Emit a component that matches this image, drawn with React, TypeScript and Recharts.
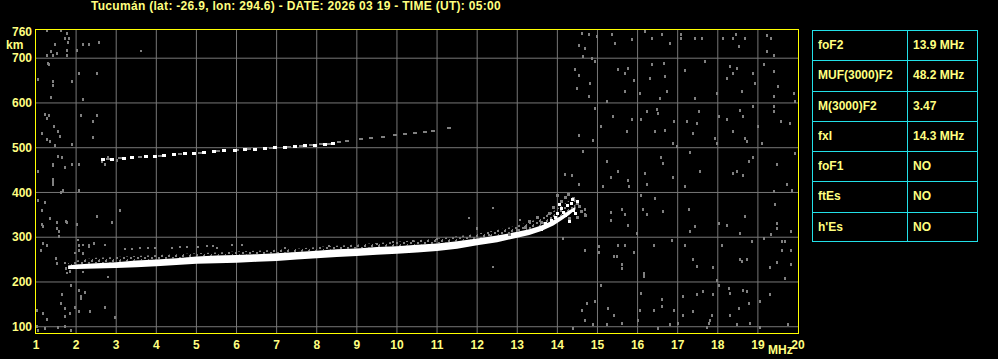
import React from 'react';
import { ComposedChart, Area, Scatter, XAxis, YAxis, CartesianGrid } from 'recharts';

const TITLE = 'Tucumán (lat: -26.9, lon: 294.6) - DATE: 2026 03 19 - TIME (UT): 05:00';

const FONT = '"Liberation Sans", Arial, sans-serif';
const TEXT_YELLOW = '#ffff80';
const AXIS_YELLOW = '#ffff00';
const GRID = '#777777';
const NOISE = '#808080';
const CYAN = '#22e0e8';

const xTicks = [1, 2, 3, 4, 5, 6, 7, 8, 9, 10, 11, 12, 13, 14, 15, 16, 17, 18, 19, 20];
const yTicks = [100, 200, 300, 400, 500, 600, 700, 760];
const gridX = [2, 3, 4, 5, 6, 7, 8, 9, 10, 11, 12, 13, 14, 15, 16, 17, 18, 19];
const gridY = [100, 200, 300, 400, 500, 600, 700];

// parameter table
const paramNames = ['foF2', 'MUF(3000)F2', 'M(3000)F2', 'fxI', 'foF1', 'ftEs', "h'Es"];
const paramValues = ['13.9 MHz', '48.2 MHz', '3.47', '14.3 MHz', 'NO', 'NO', 'NO'];

// F trace (first hop): white band lower/upper virtual height, speckled echo above it
const traceFreq = [1.8, 2.0, 2.5, 3.0, 3.5, 4.0, 4.5, 5.0, 5.5, 6.0, 6.5, 7.0, 7.5, 8.0, 8.5, 9.0, 9.5, 10.0, 10.5, 11.0, 11.5, 12.0, 12.5, 13.0, 13.3, 13.6, 13.9, 14.1, 14.3, 14.45];
const traceLow = [229, 229, 230, 231, 233, 235, 238, 241, 242, 243, 245, 247, 250, 253, 256, 258, 261, 263, 266, 269, 274, 282, 289, 299, 305, 314, 326, 338, 350, 362];
const traceHigh = [237, 239, 242, 244, 248, 250, 253, 257, 259, 260, 262, 264, 267, 270, 273, 275, 278, 280, 283, 286, 291, 297, 304, 312, 318, 326, 338, 348, 360, 368];
const fringeTop = [242, 248, 254, 256, 258, 260, 262, 264, 266, 268, 270, 272, 274, 278, 281, 284, 287, 290, 293, 297, 302, 308, 316, 326, 334, 344, 358, 370, 382, 390];

// split echoes near the critical frequency
const splitWhite = [
  { f: 13.85, h: 338 }, { f: 14.0, h: 352 }, { f: 14.1, h: 364 }, { f: 14.25, h: 370 }, { f: 14.35, h: 376 },
  { f: 14.4, h: 360 }, { f: 14.2, h: 348 }, { f: 14.45, h: 352 }, { f: 14.3, h: 336 }, { f: 14.5, h: 380 },
  { f: 13.7, h: 330 }, { f: 13.95, h: 344 }, { f: 14.15, h: 356 }, { f: 14.38, h: 384 }, { f: 14.05, h: 372 },
  { f: 13.6, h: 318 }, { f: 13.4, h: 314 },
];
const splitGray = [
  { f: 12.8, h: 305 }, { f: 13.0, h: 315 }, { f: 13.2, h: 322 }, { f: 13.3, h: 335 }, { f: 13.5, h: 345 },
  { f: 13.6, h: 332 }, { f: 13.8, h: 352 }, { f: 13.9, h: 366 }, { f: 14.1, h: 380 }, { f: 14.2, h: 388 },
  { f: 14.0, h: 394 }, { f: 14.27, h: 396 }, { f: 14.4, h: 386 }, { f: 14.5, h: 376 }, { f: 14.55, h: 368 },
  { f: 14.6, h: 358 }, { f: 14.7, h: 349 }, { f: 14.3, h: 342 }, { f: 14.5, h: 345 },
];

// second hop trace
const hopWhite = [
  { f: 2.67, h: 473 }, { f: 2.9, h: 474 }, { f: 3.2, h: 476 }, { f: 3.4, h: 478 }, { f: 3.75, h: 480 },
  { f: 3.97, h: 481 }, { f: 4.2, h: 483 }, { f: 4.45, h: 484 }, { f: 4.72, h: 486 }, { f: 4.95, h: 488 },
  { f: 5.2, h: 490 }, { f: 5.45, h: 491 }, { f: 5.7, h: 493 }, { f: 5.95, h: 494 }, { f: 6.2, h: 496 },
  { f: 6.45, h: 497 }, { f: 6.7, h: 498 }, { f: 6.95, h: 500 }, { f: 7.2, h: 501 }, { f: 7.45, h: 502 },
  { f: 7.7, h: 504 }, { f: 7.95, h: 506 }, { f: 8.2, h: 508 }, { f: 8.4, h: 510 },
];
const hopGray = [
  { f: 2.8, h: 475 }, { f: 3.1, h: 477 }, { f: 3.6, h: 479 }, { f: 4.1, h: 482 }, { f: 4.6, h: 485 },
  { f: 5.1, h: 489 }, { f: 5.55, h: 492 }, { f: 6.0, h: 495 }, { f: 6.3, h: 497 }, { f: 6.85, h: 499 },
  { f: 7.3, h: 502 }, { f: 7.6, h: 503 }, { f: 7.85, h: 505 }, { f: 8.1, h: 508 }, { f: 8.3, h: 509 },
  { f: 8.55, h: 512 }, { f: 8.75, h: 515 }, { f: 9.1, h: 519 }, { f: 9.35, h: 522 }, { f: 9.65, h: 524 },
  { f: 9.95, h: 528 }, { f: 10.2, h: 531 }, { f: 10.45, h: 533 }, { f: 10.7, h: 536 }, { f: 10.9, h: 538 },
  { f: 11.3, h: 544 },
];

// background noise
const noiseLeft = [
  { f: 1.27, h: 762 }, { f: 1.62, h: 762 }, { f: 1.77, h: 756 }, { f: 1.72, h: 744 }, { f: 1.82, h: 744 },
  { f: 1.81, h: 735 }, { f: 1.47, h: 730 }, { f: 2.18, h: 730 }, { f: 2.31, h: 730 }, { f: 2.56, h: 735 },
  { f: 1.37, h: 715 }, { f: 1.27, h: 705 }, { f: 1.42, h: 707 }, { f: 1.52, h: 711 }, { f: 1.77, h: 717 },
  { f: 1.77, h: 707 }, { f: 2.01, h: 718 }, { f: 1.31, h: 689 }, { f: 1.33, h: 685 }, { f: 1.06, h: 653 },
  { f: 1.42, h: 648 }, { f: 1.42, h: 639 }, { f: 1.91, h: 648 }, { f: 2.06, h: 666 }, { f: 2.51, h: 666 },
  { f: 1.37, h: 612 }, { f: 2.16, h: 607 }, { f: 1.22, h: 575 }, { f: 1.33, h: 573 }, { f: 1.27, h: 566 },
  { f: 2.11, h: 571 }, { f: 2.51, h: 571 }, { f: 2.41, h: 558 }, { f: 1.46, h: 548 }, { f: 1.56, h: 536 },
  { f: 1.6, h: 526 }, { f: 1.14, h: 531 }, { f: 1.28, h: 519 }, { f: 1.35, h: 513 }, { f: 1.47, h: 504 },
  { f: 1.91, h: 508 }, { f: 2.41, h: 523 }, { f: 1.56, h: 481 }, { f: 1.66, h: 478 }, { f: 1.42, h: 463 },
  { f: 1.42, h: 460 }, { f: 1.72, h: 456 }, { f: 1.91, h: 463 }, { f: 2.06, h: 463 }, { f: 2.64, h: 469 },
  { f: 2.8, h: 478 }, { f: 2.72, h: 463 }, { f: 3.01, h: 472 }, { f: 1.06, h: 446 }, { f: 1.42, h: 429 },
  { f: 1.42, h: 424 }, { f: 1.42, h: 418 }, { f: 1.62, h: 399 }, { f: 1.67, h: 404 }, { f: 2.08, h: 404 },
  { f: 1.06, h: 381 }, { f: 1.22, h: 377 }, { f: 1.14, h: 359 }, { f: 1.35, h: 341 }, { f: 1.75, h: 336 },
  { f: 1.77, h: 332 }, { f: 2.01, h: 329 }, { f: 2.89, h: 332 }, { f: 3.1, h: 359 }, { f: 2.51, h: 346 },
  { f: 1.52, h: 332 }, { f: 1.53, h: 320 }, { f: 1.57, h: 312 }, { f: 1.57, h: 301 }, { f: 1.14, h: 329 },
  { f: 1.17, h: 325 }, { f: 1.17, h: 285 }, { f: 1.27, h: 282 }, { f: 1.12, h: 271 }, { f: 1.5, h: 253 },
  { f: 1.53, h: 241 }, { f: 2.06, h: 282 }, { f: 2.08, h: 271 }, { f: 2.16, h: 264 }, { f: 2.31, h: 279 },
  { f: 2.45, h: 285 }, { f: 1.75, h: 230 }, { f: 1.85, h: 223 }, { f: 1.87, h: 193 }, { f: 1.64, h: 171 },
  { f: 1.62, h: 152 }, { f: 1.72, h: 141 }, { f: 1.72, h: 122 }, { f: 1.85, h: 130 }, { f: 1.97, h: 143 },
  { f: 2.06, h: 133 }, { f: 2.08, h: 180 }, { f: 2.22, h: 176 }, { f: 2.11, h: 168 }, { f: 2.11, h: 163 },
  { f: 1.18, h: 130 }, { f: 1.02, h: 137 }, { f: 1.27, h: 116 }, { f: 2.97, h: 120 }, { f: 2.72, h: 143 },
  { f: 2.35, h: 133 }, { f: 1.87, h: 92 }, { f: 1.72, h: 101 }, { f: 1.56, h: 98 }, { f: 1.22, h: 96 },
  { f: 1.06, h: 92 }, { f: 1.02, h: 101 },
];
const noiseMid = [
  { f: 3.61, h: 717 }, { f: 2.05, h: 293 }, { f: 2.17, h: 282 }, { f: 2.32, h: 282 }, { f: 2.72, h: 282 },
  { f: 1.97, h: 264 }, { f: 1.72, h: 242 }, { f: 1.77, h: 220 }, { f: 2.17, h: 222 }, { f: 2.8, h: 211 },
  { f: 3.22, h: 273 }, { f: 3.39, h: 273 }, { f: 3.59, h: 276 }, { f: 3.79, h: 276 }, { f: 3.97, h: 276 },
  { f: 4.39, h: 276 }, { f: 4.59, h: 278 }, { f: 4.77, h: 278 }, { f: 5.04, h: 278 }, { f: 5.26, h: 280 },
  { f: 5.41, h: 280 }, { f: 5.51, h: 276 }, { f: 5.89, h: 282 }, { f: 6.14, h: 282 }, { f: 7.21, h: 276 },
  { f: 8.3, h: 280 }, { f: 9.5, h: 285 }, { f: 9.9, h: 290 }, { f: 10.4, h: 292 }, { f: 11.0, h: 295 },
  { f: 11.4, h: 298 }, { f: 12.3, h: 304 }, { f: 12.4, h: 234 }, { f: 12.0, h: 318 }, { f: 12.4, h: 365 },
  { f: 11.8, h: 343 }, { f: 12.0, h: 320 }, { f: 13.07, h: 338 }, { f: 14.69, h: 270 },
];
const noiseRight = [
  { f: 14.61, h: 756 }, { f: 14.8, h: 752 }, { f: 14.98, h: 748 }, { f: 15.44, h: 733 }, { f: 15.36, h: 752 },
  { f: 15.86, h: 741 }, { f: 16.19, h: 759 }, { f: 16.36, h: 744 }, { f: 16.6, h: 752 }, { f: 16.81, h: 733 },
  { f: 17.08, h: 752 }, { f: 17.08, h: 744 }, { f: 17.44, h: 744 }, { f: 17.6, h: 744 }, { f: 18.14, h: 744 },
  { f: 18.46, h: 754 }, { f: 18.39, h: 744 }, { f: 18.52, h: 726 }, { f: 18.68, h: 744 }, { f: 19.22, h: 750 },
  { f: 19.32, h: 744 }, { f: 19.22, h: 715 }, { f: 19.39, h: 707 }, { f: 14.54, h: 729 }, { f: 14.69, h: 722 },
  { f: 14.65, h: 703 }, { f: 14.86, h: 700 }, { f: 14.44, h: 674 }, { f: 14.53, h: 662 }, { f: 14.82, h: 644 },
  { f: 14.78, h: 614 }, { f: 14.49, h: 633 }, { f: 14.94, h: 692 }, { f: 15.52, h: 674 }, { f: 15.69, h: 666 },
  { f: 15.77, h: 677 }, { f: 15.9, h: 651 }, { f: 16.06, h: 621 }, { f: 15.69, h: 625 }, { f: 16.31, h: 655 },
  { f: 16.36, h: 685 }, { f: 16.65, h: 688 }, { f: 16.69, h: 659 }, { f: 16.73, h: 625 }, { f: 16.56, h: 610 },
  { f: 17.19, h: 672 }, { f: 17.44, h: 610 }, { f: 17.68, h: 692 }, { f: 17.98, h: 621 }, { f: 18.31, h: 681 },
  { f: 18.39, h: 666 }, { f: 18.47, h: 677 }, { f: 18.23, h: 655 }, { f: 18.6, h: 625 }, { f: 18.89, h: 666 },
  { f: 18.93, h: 644 }, { f: 19.14, h: 685 }, { f: 19.39, h: 670 }, { f: 19.39, h: 614 }, { f: 19.51, h: 636 },
  { f: 19.89, h: 621 }, { f: 19.93, h: 603 }, { f: 15.23, h: 603 }, { f: 14.94, h: 588 }, { f: 15.38, h: 569 },
  { f: 15.08, h: 548 }, { f: 15.73, h: 536 }, { f: 15.86, h: 563 }, { f: 16.08, h: 562 }, { f: 16.23, h: 580 },
  { f: 16.48, h: 586 }, { f: 16.52, h: 577 }, { f: 16.44, h: 536 }, { f: 16.69, h: 539 }, { f: 16.9, h: 558 },
  { f: 16.88, h: 510 }, { f: 16.98, h: 502 }, { f: 17.23, h: 558 }, { f: 17.48, h: 553 }, { f: 17.38, h: 531 },
  { f: 17.54, h: 580 }, { f: 17.93, h: 521 }, { f: 17.98, h: 510 }, { f: 18.02, h: 569 }, { f: 18.23, h: 562 },
  { f: 18.56, h: 584 }, { f: 18.62, h: 569 }, { f: 18.39, h: 536 }, { f: 18.68, h: 521 }, { f: 18.72, h: 513 },
  { f: 18.87, h: 593 }, { f: 19.01, h: 547 }, { f: 19.1, h: 510 }, { f: 19.39, h: 593 }, { f: 19.39, h: 580 },
  { f: 19.57, h: 558 }, { f: 19.79, h: 553 }, { f: 14.54, h: 528 }, { f: 14.88, h: 517 }, { f: 14.63, h: 491 },
  { f: 14.19, h: 441 }, { f: 14.36, h: 437 }, { f: 14.53, h: 417 }, { f: 15.23, h: 469 }, { f: 15.33, h: 433 },
  { f: 15.77, h: 426 }, { f: 15.52, h: 446 }, { f: 15.13, h: 413 }, { f: 15.79, h: 413 }, { f: 16.19, h: 443 },
  { f: 16.23, h: 417 }, { f: 16.58, h: 478 }, { f: 16.63, h: 465 }, { f: 16.88, h: 433 }, { f: 17.19, h: 413 },
  { f: 17.31, h: 489 }, { f: 17.56, h: 446 }, { f: 18.47, h: 446 }, { f: 18.62, h: 439 }, { f: 18.39, h: 443 },
  { f: 18.77, h: 469 }, { f: 18.87, h: 478 }, { f: 19.47, h: 463 }, { f: 19.72, h: 417 }, { f: 19.85, h: 405 },
  { f: 19.93, h: 486 }, { f: 19.41, h: 402 }, { f: 14.28, h: 396 }, { f: 14.69, h: 361 }, { f: 14.69, h: 350 },
  { f: 15.33, h: 355 }, { f: 15.33, h: 338 }, { f: 15.61, h: 361 }, { f: 15.69, h: 350 }, { f: 15.77, h: 327 },
  { f: 15.98, h: 308 }, { f: 16.08, h: 393 }, { f: 16.13, h: 363 }, { f: 16.23, h: 350 }, { f: 16.44, h: 387 },
  { f: 16.63, h: 357 }, { f: 17.27, h: 361 }, { f: 17.31, h: 312 }, { f: 17.44, h: 323 }, { f: 18.04, h: 331 },
  { f: 18.23, h: 327 }, { f: 18.56, h: 308 }, { f: 18.68, h: 346 }, { f: 19.14, h: 297 }, { f: 19.32, h: 307 },
  { f: 19.43, h: 372 }, { f: 19.47, h: 331 }, { f: 19.47, h: 320 }, { f: 19.82, h: 312 }, { f: 14.14, h: 297 },
  { f: 14.69, h: 271 }, { f: 15.05, h: 279 }, { f: 15.05, h: 265 }, { f: 15.4, h: 256 }, { f: 15.48, h: 256 },
  { f: 15.52, h: 282 }, { f: 15.61, h: 238 }, { f: 15.61, h: 230 }, { f: 15.69, h: 282 }, { f: 15.9, h: 265 },
  { f: 16.15, h: 219 }, { f: 16.15, h: 212 }, { f: 16.4, h: 282 }, { f: 16.85, h: 292 }, { f: 17.19, h: 282 },
  { f: 17.39, h: 251 }, { f: 17.48, h: 234 }, { f: 17.89, h: 233 }, { f: 17.98, h: 204 }, { f: 18.1, h: 282 },
  { f: 18.56, h: 250 }, { f: 18.6, h: 245 }, { f: 18.72, h: 251 }, { f: 18.85, h: 290 }, { f: 19.31, h: 233 },
  { f: 19.47, h: 243 }, { f: 19.6, h: 290 }, { f: 19.68, h: 290 }, { f: 19.6, h: 270 }, { f: 19.82, h: 270 },
  { f: 19.82, h: 238 }, { f: 19.68, h: 208 }, { f: 15.08, h: 193 }, { f: 16.08, h: 174 }, { f: 16.6, h: 161 },
  { f: 17.14, h: 167 }, { f: 17.48, h: 171 }, { f: 17.64, h: 178 }, { f: 17.89, h: 171 }, { f: 18.02, h: 193 },
  { f: 18.27, h: 186 }, { f: 18.31, h: 174 }, { f: 18.64, h: 182 }, { f: 18.72, h: 178 }, { f: 18.77, h: 152 },
  { f: 19.06, h: 156 }, { f: 19.31, h: 171 }, { f: 18.52, h: 141 }, { f: 18.31, h: 126 }, { f: 17.85, h: 126 },
  { f: 17.81, h: 115 }, { f: 17.77, h: 107 }, { f: 17.39, h: 133 }, { f: 17.14, h: 126 }, { f: 16.9, h: 137 },
  { f: 16.6, h: 145 }, { f: 16.4, h: 137 }, { f: 16.06, h: 137 }, { f: 16.02, h: 115 }, { f: 15.61, h: 107 },
  { f: 15.27, h: 141 }, { f: 15.4, h: 126 }, { f: 14.94, h: 156 }, { f: 14.73, h: 152 }, { f: 14.61, h: 137 },
  { f: 14.69, h: 115 }, { f: 14.4, h: 96 }, { f: 14.9, h: 104 }, { f: 15.23, h: 104 }, { f: 16.52, h: 96 },
  { f: 16.81, h: 105 }, { f: 17.02, h: 107 }, { f: 17.73, h: 98 }, { f: 18.47, h: 104 }, { f: 18.81, h: 107 },
  { f: 19.06, h: 98 }, { f: 19.76, h: 104 },
];

const traceData = traceFreq.map((f, i) => ({
  f,
  band: [traceLow[i], traceHigh[i]],
  fringe: [traceHigh[i], fringeTop[i]],
}));

const pixel = (fill: string, w: number, h: number) => (props: any) => {
  if (props.cx == null || props.cy == null) return <g />;
  return <rect x={Math.round(props.cx - w / 2)} y={Math.round(props.cy - h / 2)} width={w} height={h} fill={fill} />;
};

const tickStyle = { fill: TEXT_YELLOW, fontSize: 12, fontWeight: 700, fontFamily: FONT };

const labelStyle: React.CSSProperties = {
  position: 'absolute',
  color: TEXT_YELLOW,
  fontSize: 12,
  fontWeight: 700,
  fontFamily: FONT,
  lineHeight: '14px',
  whiteSpace: 'nowrap',
};

const ROW_H = 212 / 7;

export default function App() {
  return (
    <div style={{ position: 'absolute', left: 0, top: 0, width: 998, height: 359, background: '#000', overflow: 'hidden' }}>
      <div style={{ ...labelStyle, left: 91, top: 0, lineHeight: '12px', letterSpacing: 0.3 }}>{TITLE}</div>
      <div style={{ ...labelStyle, left: 6, top: 38 }}>km</div>
      <div style={{ ...labelStyle, left: 768, top: 343 }}>MHz</div>

      <div style={{ position: 'absolute', left: 0, top: 0 }}>
        <ComposedChart width={998} height={359} data={traceData} margin={{ top: 30, right: 200, bottom: 0, left: 0 }}>
          <defs>
            <pattern id="speckle" width="7" height="5" patternUnits="userSpaceOnUse">
              <rect x="0" y="0" width="2" height="2" fill={NOISE} />
              <rect x="4" y="2" width="2" height="2" fill={NOISE} />
              <rect x="1" y="4" width="1" height="1" fill={NOISE} />
            </pattern>
          </defs>
          <CartesianGrid stroke={GRID} horizontalValues={gridY} verticalValues={gridX} />
          <XAxis
            dataKey="f"
            type="number"
            domain={[1, 20]}
            ticks={xTicks}
            interval={0}
            height={26}
            tickSize={0}
            tickMargin={7}
            tickLine={false}
            axisLine={false}
            tick={tickStyle}
            allowDataOverflow
          />
          <YAxis
            dataKey="h"
            type="number"
            domain={[86, 763]}
            ticks={yTicks}
            interval={0}
            width={36}
            tickSize={0}
            tickMargin={4}
            tickLine={false}
            axisLine={false}
            tick={tickStyle}
            allowDataOverflow
          />
          <Area dataKey="fringe" type="linear" stroke="none" fill="url(#speckle)" fillOpacity={1} isAnimationActive={false} />
          <Area dataKey="band" type="linear" stroke="none" fill="#ffffff" fillOpacity={1} isAnimationActive={false} />
          <Scatter data={noiseLeft} shape={pixel(NOISE, 2, 3)} isAnimationActive={false} />
          <Scatter data={noiseMid} shape={pixel(NOISE, 2, 2)} isAnimationActive={false} />
          <Scatter data={noiseRight} shape={pixel(NOISE, 2, 3)} isAnimationActive={false} />
          <Scatter data={splitGray} shape={pixel(NOISE, 3, 3)} isAnimationActive={false} />
          <Scatter data={splitWhite} shape={pixel('#ffffff', 3, 3)} isAnimationActive={false} />
          <Scatter data={hopGray} shape={pixel(NOISE, 4, 2)} isAnimationActive={false} />
          <Scatter data={hopWhite} shape={pixel('#ffffff', 4, 3)} isAnimationActive={false} />
        </ComposedChart>
      </div>

      {/* plot frame */}
      <div style={{ position: 'absolute', left: 35, top: 29, width: 762, height: 303, border: `1px solid ${AXIS_YELLOW}`, pointerEvents: 'none' }} />

      <div style={{ position: 'absolute', left: 812, top: 30, width: 164, height: 210, border: `1px solid ${CYAN}` }}>
        <div style={{ position: 'absolute', left: 94, top: 0, width: 1, height: 210, background: CYAN }} />
        {paramNames.map((name, i) => (
          <React.Fragment key={name}>
            {i > 0 && (
              <div style={{ position: 'absolute', left: 0, top: Math.round(i * ROW_H) - 1, width: 164, height: 1, background: CYAN }} />
            )}
            <div style={{ ...labelStyle, left: 5, top: Math.round(i * ROW_H) + 7 }}>{name}</div>
            <div style={{ ...labelStyle, left: 100, top: Math.round(i * ROW_H) + 7 }}>{paramValues[i]}</div>
          </React.Fragment>
        ))}
      </div>
    </div>
  );
}
